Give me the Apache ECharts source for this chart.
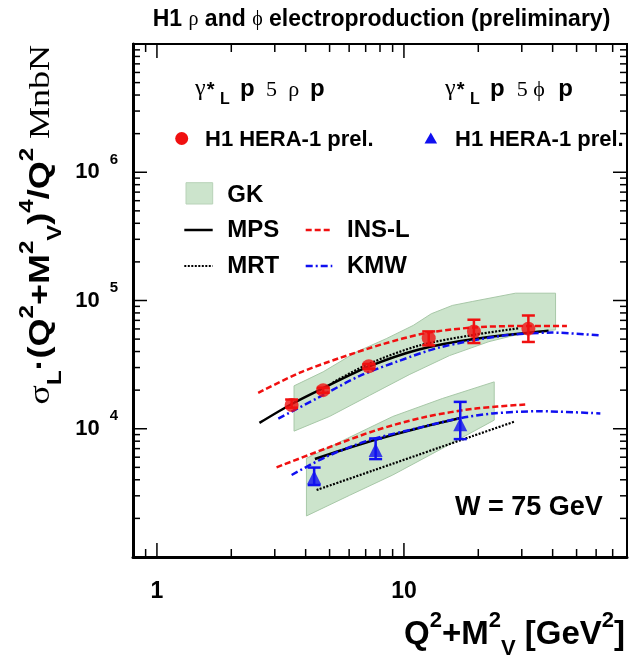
<!DOCTYPE html>
<html>
<head>
<meta charset="utf-8">
<script src="https://cdn.jsdelivr.net/npm/echarts@6/dist/echarts.min.js"></script>
<style>
  html, body { margin: 0; padding: 0; background: #fff; }
  #chart { width: 629px; height: 658px; }
</style>
</head>
<body>
<div id="chart"></div>
<script>
const SANS = "'Liberation Sans', Arial, sans-serif";
const SERIF = "'Liberation Serif', 'DejaVu Serif', serif";

// ---- axes ----
const xRange = [0.8, 80];
const yRange = [1e3, 1e7];
const xMajorTicks = [1, 10];
const xMinorTicks = [0.9, 2, 3, 4, 5, 6, 7, 8, 9, 20, 30, 40, 50, 60, 70];
const yMajorTicks = [1e4, 1e5, 1e6];
const yMinorTicks = [
  2e3, 3e3, 4e3, 5e3, 6e3, 7e3, 8e3, 9e3,
  2e4, 3e4, 4e4, 5e4, 6e4, 7e4, 8e4, 9e4,
  2e5, 3e5, 4e5, 5e5, 6e5, 7e5, 8e5, 9e5,
  2e6, 3e6, 4e6, 5e6, 6e6, 7e6, 8e6, 9e6
];
const xTickLabels = ['1', '10'];
const yTickExponents = ['4', '5', '6'];

// ---- H1 HERA-1 preliminary, W = 75 GeV ----
const rhoQ2 = [3.51, 4.71, 7.21, 12.6, 19.2, 31.9];
const rhoSigma = [15300, 20000, 30700, 50800, 57400, 60300];
const rhoLow = [14600, 19100, 29400, 44700, 46600, 47500];
const rhoHigh = [16900, 20900, 32000, 57400, 70800, 76400];

const phiQ2 = [4.33, 7.68, 16.9];
const phiSigma = [4180, 6820, 10860];
const phiLow = [3640, 5800, 8300];
const phiHigh = [4980, 8400, 16200];

// ---- model curves, rho ----
const rhoMpsQ2 = [2.60, 3.51, 4.69, 7.19, 11.5, 19.2, 38.5];
const rhoMps = [11100, 15600, 20650, 30500, 41500, 50100, 58100];
const rhoMrtQ2 = [5.15, 7.19, 11.5, 19.2, 29.2];
const rhoMrt = [22900, 32000, 44500, 54000, 60800];
const rhoInsQ2 = [2.57, 3.79, 5.50, 8.21, 11.9, 15.85, 21.5, 32.1, 45.7];
const rhoIns = [19050, 27350, 35650, 45700, 55100, 59600, 62400, 63400, 63400];
const rhoKmwQ2 = [3.10, 4.43, 6.62, 9.59, 14.1, 25.0, 39.8, 61.4];
const rhoKmw = [12000, 17200, 25800, 33900, 43300, 53000, 56200, 53500];
const rhoGkUpQ2 = [3.59, 4.71, 6.42, 8.48, 10.9, 12.9, 15.7, 18.9, 28.3, 41.1];
const rhoGkUp = [21600, 27800, 39700, 50400, 63900, 78800, 91500, 98200, 114000, 114000];
const rhoGkLoQ2 = [3.59, 5.01, 7.26, 10.5, 15.3, 22.1, 32.1, 41.1];
const rhoGkLo = [9580, 12500, 18200, 26400, 37200, 47800, 57100, 59000];

// ---- model curves, phi ----
const phiMpsQ2 = [4.36, 5.67, 7.73, 11.5, 16.9];
const phiMps = [5810, 6860, 8240, 10140, 12130];
const phiMrtQ2 = [4.43, 7.49, 13.9, 18.9, 27.9];
const phiMrt = [3330, 4720, 7130, 8750, 11330];
const phiInsQ2 = [3.05, 4.86, 7.73, 12.3, 19.5, 31.1];
const phiIns = [5000, 7050, 9750, 12400, 14380, 15450];
const phiKmwQ2 = [3.51, 4.86, 7.26, 11.2, 16.7, 22.8, 35.2, 62.4];
const phiKmw = [4360, 6060, 8160, 10050, 12030, 13150, 13700, 13150];
const phiGkUpQ2 = [4.03, 5.67, 9.01, 14.3, 23.2];
const phiGkUp = [5880, 8110, 12460, 17200, 23200];
const phiGkLoQ2 = [4.03, 6.03, 9.01, 14.3, 23.2];
const phiGkLo = [2090, 3030, 4360, 7030, 11670];

// ---- styles ----
const RED = '#f01010';
const BLUE = '#1010f0';
const GK_FILL = '#cce4cc';
const GK_EDGE = '#a8c8a8';
const DASH_INS = [6, 3];
const DASH_KMW = [7, 3, 2, 3];
const DASH_MRT = [2, 1.5];

function pairs(xs, ys) { return xs.map((x, i) => [x, ys[i]]); }

function curve(name, xs, ys, color, type, width) {
  return {
    type: 'line', name: name, data: pairs(xs, ys),
    showSymbol: false, symbol: 'none', smooth: 0.3,
    silent: true, z: 10,
    lineStyle: { color: color, width: width, type: type }
  };
}

function band(name, upQ, up, loQ, lo) {
  const pts = pairs(upQ, up).concat(pairs(loQ, lo).reverse());
  return {
    type: 'custom', name: name, silent: true, z: 5, data: pts,
    renderItem: function (params, api) {
      if (params.dataIndex !== 0) return null;
      return {
        type: 'polygon',
        shape: { points: pts.map(p => api.coord(p)) },
        style: { fill: GK_FILL, stroke: GK_EDGE, lineWidth: 1 }
      };
    }
  };
}

function errorBars(name, xs, lo, hi, color) {
  return {
    type: 'custom', name: name, silent: true, z: 30, clip: false,
    data: xs.map((x, i) => [x, lo[i], hi[i]]),
    encode: { x: 0, y: [1, 2] },
    renderItem: function (params, api) {
      const a = api.coord([api.value(0), api.value(1)]);
      const b = api.coord([api.value(0), api.value(2)]);
      const w = 6.5;
      const st = { stroke: color, lineWidth: 2.5 };
      return {
        type: 'group', children: [
          { type: 'line', shape: { x1: a[0], y1: a[1], x2: b[0], y2: b[1] }, style: st },
          { type: 'line', shape: { x1: a[0] - w, y1: a[1], x2: a[0] + w, y2: a[1] }, style: st },
          { type: 'line', shape: { x1: b[0] - w, y1: b[1], x2: b[0] + w, y2: b[1] }, style: st }
        ]
      };
    }
  };
}

// tick marks on all four sides of the frame
function ticks(values, isX, len) {
  return {
    type: 'custom', silent: true, clip: false, z: 40,
    data: values.map(v => isX ? [v, yRange[0]] : [xRange[0], v]),
    renderItem: function (params, api) {
      const cs = params.coordSys;
      const p = api.coord([api.value(0), api.value(1)]);
      const st = { stroke: '#000', lineWidth: 1.5 };
      let a, b;
      if (isX) {
        const y0 = cs.y, y1 = cs.y + cs.height;
        a = { x1: p[0], y1: y1, x2: p[0], y2: y1 - len };
        b = { x1: p[0], y1: y0, x2: p[0], y2: y0 + len };
      } else {
        const x0 = cs.x, x1 = cs.x + cs.width;
        a = { x1: x0, y1: p[1], x2: x0 + len, y2: p[1] };
        b = { x1: x1, y1: p[1], x2: x1 - len, y2: p[1] };
      }
      return { type: 'group', children: [
        { type: 'line', shape: a, style: st },
        { type: 'line', shape: b, style: st }
      ] };
    }
  };
}

function findTick(list, v) {
  return list.findIndex(t => Math.abs(Math.log10(t) - Math.log10(v)) < 1e-6);
}

// ---- text helpers ----
function txt(x, y, text, size, o) {
  o = o || {};
  return {
    type: 'text', x: x, y: y, z: 100,
    rotation: o.rotation || 0, scaleX: o.scaleX || 1,
    style: {
      text: text, fill: o.color || '#000',
      fontFamily: o.family || SANS, fontSize: size,
      fontWeight: o.weight || 'bold',
      align: o.align || 'left', verticalAlign: 'middle',
      textAlign: o.align || 'left', textVerticalAlign: 'middle',
      rich: o.rich
    }
  };
}
// place a piece by its baseline
function onBase(x, base, text, size, o) {
  return txt(x, base - 0.35 * size, text, size, o);
}
function hline(x1, x2, y, color, dash, width) {
  return { type: 'line', z: 100, shape: { x1: x1, y1: y, x2: x2, y2: y },
    style: { stroke: color, lineWidth: width || 2.5, lineDash: dash || null } };
}

const serif = { family: SERIF, weight: 'normal' };
const graphics = [
  // title
  txt(381.5, 20, '{b|H1 }{g|ρ}{b| and }{g|ϕ}{b| electroproduction (preliminary)}', 23, {
    align: 'center',
    rich: {
      b: { fontFamily: SANS, fontWeight: 'bold', fontSize: 23 },
      g: { fontFamily: SERIF, fontSize: 20 }
    }
  }),
  // reaction labels
  onBase(195, 97.5, 'γ', 24, serif),
  onBase(206.7, 97.5, '*', 20),
  onBase(220, 105, 'L', 16),
  onBase(240, 97.5, 'p', 24),
  onBase(266, 97.5, '5', 22, serif),
  onBase(288.3, 97.5, 'ρ', 22, serif),
  onBase(310, 97.5, 'p', 24),
  onBase(445, 97.5, 'γ', 24, serif),
  onBase(456.7, 97.5, '*', 20),
  onBase(470, 105, 'L', 16),
  onBase(490, 97.5, 'p', 24),
  onBase(516.7, 97.5, '5', 22, serif),
  onBase(533.3, 97.5, 'ϕ', 22, serif),
  onBase(558.3, 97.5, 'p', 24),
  // data legend
  { type: 'circle', z: 100, shape: { cx: 181.7, cy: 138.5, r: 6.5 }, style: { fill: RED } },
  onBase(205, 147.3, 'H1 HERA-1 prel.', 22),
  { type: 'polygon', z: 100, shape: { points: [[430.8, 132.5], [424.5, 143.5], [437.1, 143.5]] }, style: { fill: BLUE } },
  onBase(455, 147.3, 'H1 HERA-1 prel.', 22),
  // model legend
  { type: 'rect', z: 100, shape: { x: 186, y: 182.7, width: 26.7, height: 21.3 }, style: { fill: GK_FILL, stroke: '#b8d2b8', lineWidth: 1 } },
  onBase(227.3, 204, 'GK', 24),
  hline(184.3, 212.7, 230, '#000', null, 2.5),
  onBase(227.3, 238.5, 'MPS', 24),
  hline(184.3, 212.7, 266, '#000', DASH_MRT, 2),
  onBase(227.3, 275, 'MRT', 24),
  hline(305.7, 332.3, 230, RED, DASH_INS, 2.5),
  onBase(347, 238.5, 'INS-L', 24),
  hline(305.7, 332.3, 266, BLUE, DASH_KMW, 2.5),
  onBase(347, 275, 'KMW', 24),
  // kinematics
  onBase(455, 517, 'W = 75 GeV', 27),
  // axis titles
  txt(41, 45, '{s|σ}{sub|L}{b|·(Q}{sup|2}{b|+M}{sup|2}{sub|V}{b|)}{sup|4}{b|/Q}{sup|2}{r| MnbN}', 30, {
    align: 'right', rotation: Math.PI / 2, scaleX: 1.2,
    rich: {
      b: { fontFamily: SANS, fontWeight: 'bold', fontSize: 30, lineHeight: 48 },
      s: { fontFamily: SERIF, fontSize: 30, lineHeight: 48 },
      r: { fontFamily: SERIF, fontSize: 30, lineHeight: 48 },
      sup: { fontFamily: SANS, fontWeight: 'bold', fontSize: 20, lineHeight: 20, verticalAlign: 'top' },
      sub: { fontFamily: SANS, fontWeight: 'bold', fontSize: 20, lineHeight: 26, verticalAlign: 'bottom' }
    }
  }),
  txt(625, 634.5, '{b|Q}{sup|2}{b|+M}{sup|2}{sub|V}{b| [GeV}{sup|2}{b|]}', 33, {
    align: 'right',
    rich: {
      b: { fontFamily: SANS, fontWeight: 'bold', fontSize: 33, lineHeight: 50 },
      sup: { fontFamily: SANS, fontWeight: 'bold', fontSize: 22, lineHeight: 22, verticalAlign: 'top' },
      sub: { fontFamily: SANS, fontWeight: 'bold', fontSize: 22, lineHeight: 32, verticalAlign: 'bottom' }
    }
  })
];

const axisCommon = {
  type: 'log', logBase: 10,
  axisTick: { show: false }, minorTick: { show: false },
  splitLine: { show: false }, minorSplitLine: { show: false },
  axisLine: { show: true, onZero: false, lineStyle: { color: '#000', width: 3 } }
};

const option = {
  animation: false,
  backgroundColor: '#fff',
  grid: {
    left: 133, top: 44, width: 494, height: 513,
    show: true, borderColor: '#000', borderWidth: 2, backgroundColor: 'transparent',
    containLabel: false, outerBoundsMode: 'none'
  },
  xAxis: Object.assign({}, axisCommon, {
    min: xRange[0], max: xRange[1],
    axisLabel: {
      interval: 0, margin: 23, color: '#000',
      fontFamily: SANS, fontWeight: 'bold', fontSize: 23,
      formatter: function (v) { const k = findTick(xMajorTicks, v); return k < 0 ? '' : xTickLabels[k]; }
    }
  }),
  yAxis: Object.assign({}, axisCommon, {
    min: yRange[0], max: yRange[1],
    axisLabel: {
      interval: 0, margin: 15, color: '#000',
      formatter: function (v) {
        const k = findTick(yMajorTicks, v);
        return k < 0 ? '' : '{b|10}{s|' + yTickExponents[k] + '}';
      },
      rich: {
        b: { fontFamily: SANS, fontWeight: 'bold', fontSize: 22, lineHeight: 40 },
        s: { fontFamily: SANS, fontWeight: 'bold', fontSize: 15, lineHeight: 15, verticalAlign: 'top', padding: [0, 0, 0, 10] }
      }
    }
  }),
  graphic: { elements: graphics },
  series: [
    band('GK rho', rhoGkUpQ2, rhoGkUp, rhoGkLoQ2, rhoGkLo),
    band('GK phi', phiGkUpQ2, phiGkUp, phiGkLoQ2, phiGkLo),
    curve('MRT rho', rhoMrtQ2, rhoMrt, '#000', DASH_MRT, 2.2),
    curve('MRT phi', phiMrtQ2, phiMrt, '#000', DASH_MRT, 2.2),
    curve('MPS rho', rhoMpsQ2, rhoMps, '#000', 'solid', 2.5),
    curve('MPS phi', phiMpsQ2, phiMps, '#000', 'solid', 2.5),
    curve('INS-L rho', rhoInsQ2, rhoIns, RED, DASH_INS, 2.5),
    curve('INS-L phi', phiInsQ2, phiIns, RED, DASH_INS, 2.5),
    curve('KMW rho', rhoKmwQ2, rhoKmw, BLUE, DASH_KMW, 2.5),
    curve('KMW phi', phiKmwQ2, phiKmw, BLUE, DASH_KMW, 2.5),
    errorBars('H1 rho errors', rhoQ2, rhoLow, rhoHigh, RED),
    errorBars('H1 phi errors', phiQ2, phiLow, phiHigh, BLUE),
    {
      type: 'scatter', name: 'H1 rho', data: pairs(rhoQ2, rhoSigma), z: 35, silent: true,
      symbol: 'circle', symbolSize: 14, itemStyle: { color: RED }
    },
    {
      type: 'scatter', name: 'H1 phi', data: pairs(phiQ2, phiSigma), z: 35, silent: true,
      symbol: 'triangle', symbolSize: 14, itemStyle: { color: BLUE }
    },
    ticks(xMajorTicks, true, 14),
    ticks(xMinorTicks, true, 8),
    ticks(yMajorTicks, false, 14),
    ticks(yMinorTicks, false, 7)
  ]
};

const chart = echarts.init(document.getElementById('chart'), null, { renderer: 'canvas' });
chart.setOption(option);
</script>
</body>
</html>
